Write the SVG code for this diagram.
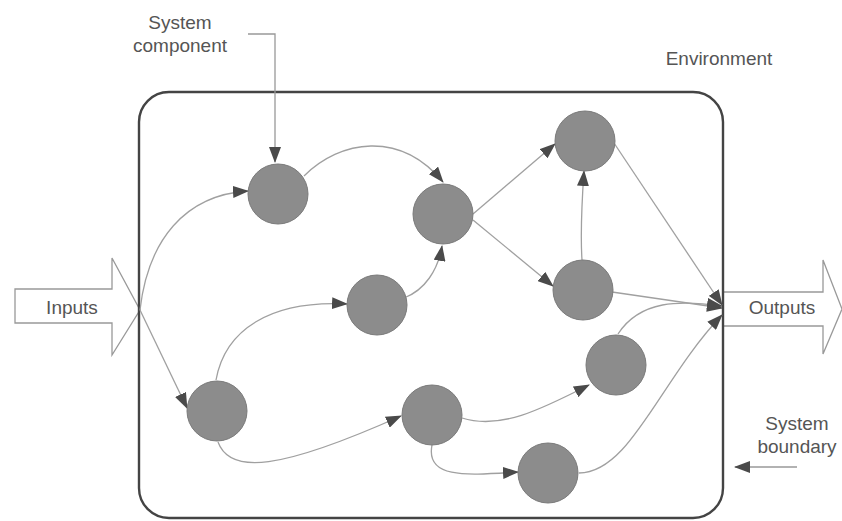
<svg xmlns="http://www.w3.org/2000/svg" width="842" height="521" viewBox="0 0 842 521">
  <style>
    .label { font-family: "Liberation Sans", Arial, sans-serif; font-size: 19px; fill: #555; }
    .comp { fill: #8c8c8c; stroke: #7a7a7a; stroke-width: 1; }
    .flow { fill: none; stroke: #a0a0a0; stroke-width: 1.3; }
    .pointer { fill: none; stroke: #999; stroke-width: 1.3; }
    .bigarrow { fill: #fff; stroke: #999; stroke-width: 1.3; }
  </style>
  <defs>
    <marker id="head" viewBox="0 0 16 12" refX="15" refY="6" markerWidth="16" markerHeight="12" markerUnits="userSpaceOnUse" orient="auto">
      <path d="M0,0 L16,6 L0,12 Z" fill="#4a4a4a"/>
    </marker>
  </defs>

  <rect width="842" height="521" fill="#fff"/>

  <!-- environment label -->
  <g id="environment">
    <text class="label" x="719" y="65" text-anchor="middle">Environment</text>
  </g>

  <!-- input and output block arrows -->
  <g id="inputs">
    <path class="bigarrow" d="M15,289 L112,289 L112,258 L140,310 L112,355 L112,323 L15,323 Z"/>
    <text class="label" x="72" y="314" text-anchor="middle">Inputs</text>
  </g>
  <g id="outputs">
    <path class="bigarrow" d="M724,292 L823,292 L823,260 L842,309 L823,354 L823,326 L724,326"/>
    <text class="label" x="782" y="314" text-anchor="middle">Outputs</text>
  </g>

  <!-- system boundary -->
  <g id="boundary">
    <rect x="139" y="92" width="584" height="426" rx="30" ry="30" fill="none" stroke="#444" stroke-width="2.4"/>
  </g>

  <!-- connectors -->
  <g id="connectors">
    <path class="flow" marker-end="url(#head)" d="M140,310 C148,240 185,195 248,191"/>
    <path class="flow" marker-end="url(#head)" d="M140,310 L187,408"/>
    <path class="flow" marker-end="url(#head)" d="M304,176 C340,140 400,130 443,182"/>
    <path class="flow" marker-end="url(#head)" d="M404,298 C425,290 438,270 442,246"/>
    <path class="flow" marker-end="url(#head)" d="M473,214 L555,144"/>
    <path class="flow" marker-end="url(#head)" d="M473,220 L553,286"/>
    <path class="flow" marker-end="url(#head)" d="M582,260 C580,230 582,200 584,171"/>
    <path class="flow" marker-end="url(#head)" d="M614,143 L722,305"/>
    <path class="flow" marker-end="url(#head)" d="M612,292 L722,308"/>
    <path class="flow" marker-end="url(#head)" d="M618,334 C640,300 680,300 722,306"/>
    <path class="flow" marker-end="url(#head)" d="M579,473 C630,473 660,380 722,315"/>
    <path class="flow" marker-end="url(#head)" d="M216,380 C225,330 270,300 347,304"/>
    <path class="flow" marker-end="url(#head)" d="M218,442 C230,475 280,470 401,416"/>
    <path class="flow" marker-end="url(#head)" d="M462,418 C500,430 540,410 589,385"/>
    <path class="flow" marker-end="url(#head)" d="M432,445 C425,480 470,475 518,472"/>
  </g>

  <!-- components -->
  <g id="c1"><circle class="comp" cx="278" cy="194" r="30"/></g>
  <g id="c2"><circle class="comp" cx="443" cy="214" r="30"/></g>
  <g id="c3"><circle class="comp" cx="585" cy="141" r="30"/></g>
  <g id="c4"><circle class="comp" cx="583" cy="290" r="30"/></g>
  <g id="c5"><circle class="comp" cx="377" cy="305" r="30"/></g>
  <g id="c6"><circle class="comp" cx="217" cy="411" r="30"/></g>
  <g id="c7"><circle class="comp" cx="432" cy="415" r="30"/></g>
  <g id="c8"><circle class="comp" cx="616" cy="365" r="30"/></g>
  <g id="c9"><circle class="comp" cx="548" cy="473" r="30"/></g>

  <!-- callouts -->
  <g id="component-callout">
    <text class="label" x="180" y="29" text-anchor="middle">System</text>
    <text class="label" x="180" y="52" text-anchor="middle">component</text>
    <path class="pointer" marker-end="url(#head)" d="M248,34 L275,34 L275,162"/>
  </g>
  <g id="boundary-callout">
    <text class="label" x="797" y="430" text-anchor="middle">System</text>
    <text class="label" x="797" y="453" text-anchor="middle">boundary</text>
    <path class="pointer" marker-end="url(#head)" d="M797,467 L735,467"/>
  </g>
</svg>
